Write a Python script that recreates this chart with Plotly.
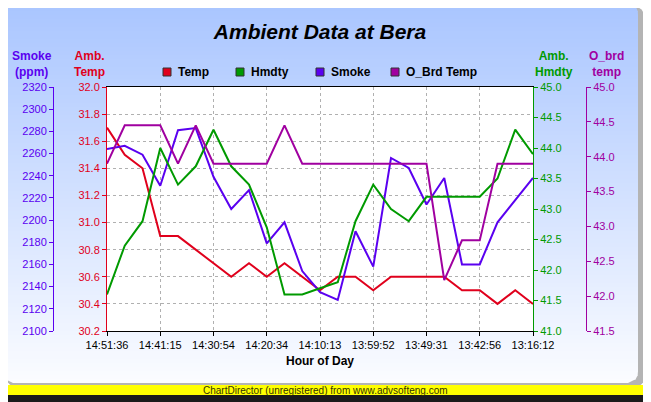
import numpy as np
import plotly.graph_objects as go

W, H = 651, 402
OFF = 8  # the page body keeps an 8px margin; draw the figure inside it

# every 3rd sample carries a time label
TIME_LABELS = ["14:51:36", "14:41:15", "14:30:54", "14:20:34", "14:10:13",
               "13:59:52", "13:49:31", "13:42:56", "13:16:12"]

TEMP = [31.7, 31.5, 31.4, 30.9, 30.9, 30.8, 30.7, 30.6, 30.7, 30.6, 30.7, 30.6, 30.5,
        30.6, 30.6, 30.5, 30.6, 30.6, 30.6, 30.6, 30.5, 30.5, 30.4, 30.5, 30.4]
HMDTY = [41.6, 42.4, 42.8, 44.0, 43.4, 43.7, 44.3, 43.7, 43.4, 42.7, 41.6, 41.6, 41.7,
         41.8, 42.8, 43.4, 43.0, 42.8, 43.2, 43.2, 43.2, 43.2, 43.5, 44.3, 43.9]
SMOKE = [2264, 2267, 2259, 2231, 2281, 2283, 2239, 2210, 2227, 2179, 2198, 2154, 2135,
         2128, 2190, 2158, 2256, 2247, 2214, 2238, 2160, 2160, 2198, 2218, 2238]
O_BRD = [43.9, 44.45, 44.45, 44.45, 43.9, 44.45, 43.9, 43.9, 43.9, 43.9, 44.45, 43.9, 43.9,
         43.9, 43.9, 43.9, 43.9, 43.9, 43.9, 42.23, 42.8, 42.8, 43.9, 43.9, 43.9]

SERIES = ["Temp", "Hmdty", "Smoke", "O_Brd Temp"]

idx = list(range(len(TEMP)))

RED = "#e0001c"
GREEN = "#009a00"
BLUE = "#5a00f0"
MAG = "#a000a0"
FONT = "Liberation Sans, Arial, sans-serif"

FW, FH = W - OFF, H - OFF


def px(x):
    return (x - OFF) / FW


def py(y):
    return 1 - (y - OFF) / FH


# plot area in page pixels
PL, PR, PT, PB = 107, 533, 87, 331

shapes = []


def rounded(x0, y0, x1, y1, r):
    return (f"M {px(x0+r)},{py(y0)} L {px(x1-r)},{py(y0)} "
            f"Q {px(x1)},{py(y0)} {px(x1)},{py(y0+r)} L {px(x1)},{py(y1-r)} "
            f"Q {px(x1)},{py(y1)} {px(x1-r)},{py(y1)} L {px(x0+r)},{py(y1)} "
            f"Q {px(x0)},{py(y1)} {px(x0)},{py(y1-r)} L {px(x0)},{py(y0+r)} "
            f"Q {px(x0)},{py(y0)} {px(x0+r)},{py(y0)} Z")


# shadow
shapes.append(dict(type="path", xref="paper", yref="paper", layer="below",
                   path=rounded(7, 7, 644, 387, 10), fillcolor="#b4b4b4", line_width=0))

# gradient panel made of thin bands
x0, x1, y0, y1, r = 3, 638, 3, 383, 10
top = np.array([170, 198, 255])
bot = np.array([252, 253, 255])


def inset(y):
    if y < y0 + r:
        d = y0 + r - y
        return r - np.sqrt(max(r * r - d * d, 0))
    if y > y1 - r:
        d = y - (y1 - r)
        return r - np.sqrt(max(r * r - d * d, 0))
    return 0


step = 4
for yt in range(y0, y1, step):
    yb = min(yt + step, y1)
    t = (yt - y0) / (y1 - y0)
    c = top + (bot - top) * t
    col = f"rgb({int(c[0])},{int(c[1])},{int(c[2])})"
    ybb = min(yb + 0.6, y1)
    path = (f"M {px(x0+inset(yt))},{py(yt)} L {px(x1-inset(yt))},{py(yt)} "
            f"L {px(x1-inset(ybb))},{py(ybb)} L {px(x0+inset(ybb))},{py(ybb)} Z")
    shapes.append(dict(type="path", xref="paper", yref="paper", layer="below",
                       path=path, fillcolor=col, line_width=0))

# white plot area
shapes.append(dict(type="rect", xref="paper", yref="paper", layer="below",
                   x0=px(PL), x1=px(PR), y0=py(PB), y1=py(PT),
                   fillcolor="white", line_width=0))
# footer
shapes.append(dict(type="rect", xref="paper", yref="paper", layer="below",
                   x0=px(0), x1=px(W), y0=py(395), y1=py(385), fillcolor="#ffff00", line_width=0))
shapes.append(dict(type="rect", xref="paper", yref="paper", layer="below",
                   x0=px(0), x1=px(W), y0=py(H), y1=py(395), fillcolor="#1a1a1a", line_width=0))

fig = go.Figure()
fig.add_trace(go.Scatter(x=idx, y=TEMP, name=SERIES[0], mode="lines",
                         line=dict(color=RED, width=2), yaxis="y"))
fig.add_trace(go.Scatter(x=idx, y=SMOKE, name=SERIES[2], mode="lines",
                         line=dict(color=BLUE, width=2), yaxis="y2"))
fig.add_trace(go.Scatter(x=idx, y=HMDTY, name=SERIES[1], mode="lines",
                         line=dict(color=GREEN, width=2), yaxis="y3"))
fig.add_trace(go.Scatter(x=idx, y=O_BRD, name=SERIES[3], mode="lines",
                         line=dict(color=MAG, width=2), yaxis="y4"))

annotations = []

# legend row: coloured boxes followed by labels
LEG_X = [167, 240, 320, 395]
for name, col, lx in zip(SERIES, [RED, GREEN, BLUE, MAG], LEG_X):
    shapes.append(dict(type="rect", xref="paper", yref="paper",
                       x0=px(lx - 4), x1=px(lx + 4), y0=py(76), y1=py(68),
                       fillcolor=col, line=dict(color="#333333", width=1)))
    annotations.append(dict(text=f"<b>{name}</b>", x=px(lx + 9), y=py(72), xanchor="left",
                            font=dict(color="black", size=12)))


def yax(color, rng, dtick, **kw):
    d = dict(range=rng, dtick=dtick, tickformat=kw.pop("fmt", ".1f"),
             showline=True, linecolor=color, linewidth=1, ticks="outside",
             ticklen=4, tickcolor=color, tickfont=dict(color=color, size=11, family=FONT),
             showgrid=False, zeroline=False, fixedrange=True, automargin=False)
    d.update(kw)
    return d


annotations += [
    dict(text="<b>Smoke</b><br><b>(ppm)</b>", x=px(32), y=py(64), font=dict(color=BLUE, size=12)),
    dict(text="<b>Amb.</b><br><b>Temp</b>", x=px(89), y=py(64), font=dict(color=RED, size=12)),
    dict(text="<b>Amb.</b><br><b>Hmdty</b>", x=px(554), y=py(64), font=dict(color=GREEN, size=12)),
    dict(text="<b>O_brd</b><br><b>temp</b>", x=px(606), y=py(64), font=dict(color=MAG, size=12)),
    dict(text="<b>Hour of Day</b>", x=px(320), y=py(361), font=dict(color="black", size=12)),
    dict(text="ChartDirector (unregistered) from www.advsofteng.com", x=px(325), y=py(390),
         font=dict(color="#333300", size=10)),
]
for a in annotations:
    a.setdefault("xanchor", "center")
    a.update(xref="paper", yref="paper", showarrow=False, yanchor="middle")

fig.update_layout(
    template="none",
    width=FW, height=FH, autosize=False,
    margin=dict(l=0, r=0, t=0, b=0, pad=0),
    paper_bgcolor="white", plot_bgcolor="white",
    font=dict(family=FONT, size=11, color="black"),
    title=dict(text="<b><i>Ambient Data at Bera</i></b>", x=px(320), xanchor="center",
               y=py(32), yanchor="middle", font=dict(size=21, color="black")),
    showlegend=False,
    xaxis=dict(domain=[px(PL), px(PR)], range=[0, len(idx) - 1],
               tickvals=idx[::3], ticktext=TIME_LABELS,
               showline=True, linecolor="black", linewidth=1, mirror=True,
               ticks="outside", ticklen=4, tickcolor="black",
               tickfont=dict(size=11, color="black"),
               showgrid=True, gridcolor="#b0b0b0", griddash="dot", gridwidth=1,
               zeroline=False, fixedrange=True, automargin=False),
    yaxis=yax(RED, [30.2, 32.0], 0.2, domain=[py(PB), py(PT)], side="left",
              showgrid=True, gridcolor="#b0b0b0", griddash="dot", gridwidth=1),
    yaxis2=yax(BLUE, [2100, 2320], 20, fmt="d", overlaying="y", side="left",
               anchor="free", position=px(53)),
    yaxis3=yax(GREEN, [41, 45], 0.5, overlaying="y", side="right", anchor="x"),
    yaxis4=yax(MAG, [41.5, 45], 0.5, overlaying="y", side="right",
               anchor="free", position=px(586)),
    shapes=shapes,
    annotations=annotations,
)

fig.write_html("out.html")
